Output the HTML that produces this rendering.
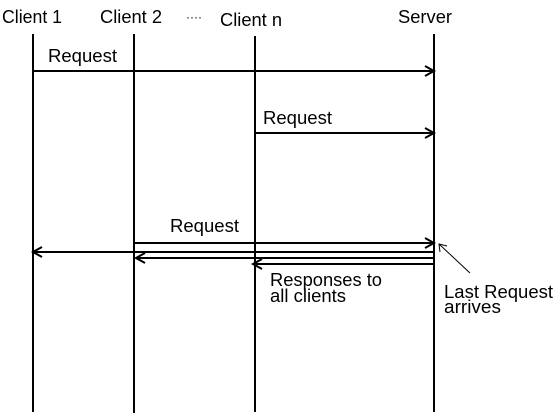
<!DOCTYPE html>
<html><head><meta charset="utf-8"><style>
html,body{margin:0;padding:0;background:#fff;}
svg{display:block;}
text{font-family:"Liberation Sans",Arial,sans-serif;font-size:18px;fill:#000;}
</style></head><body>
<svg width="555" height="416" viewBox="0 0 555 416" xmlns="http://www.w3.org/2000/svg">
<g stroke="#000" stroke-width="2" fill="none">
<line x1="33" y1="34" x2="33" y2="412"/>
<line x1="134" y1="34" x2="134" y2="413"/>
<line x1="255" y1="36" x2="255" y2="412"/>
<line x1="434" y1="34" x2="434" y2="412"/>
<line x1="33" y1="71" x2="434" y2="71"/>
<polyline points="425,66 434,71 425,76"/>
<line x1="255" y1="133" x2="434" y2="133"/>
<polyline points="425,128 434,133 425,138"/>
<line x1="134" y1="243" x2="434" y2="243"/>
<polyline points="425,238 434,243 425,248"/>
<line x1="33" y1="252" x2="434" y2="252"/>
<polyline points="42,247 33,252 42,257"/>
<line x1="136" y1="258" x2="434" y2="258"/>
<polyline points="145,253 136,258 145,263"/>
<line x1="253" y1="264" x2="434" y2="264"/>
<polyline points="262,259 253,264 262,269"/>
</g>
<g stroke="#000" stroke-width="1" fill="none">
<line x1="439" y1="244" x2="470" y2="273"/>
<polyline points="440,252 439,244 447,246"/>
</g>
<text x="2" y="23" textLength="60" lengthAdjust="spacingAndGlyphs">Client 1</text>
<text x="100" y="23" textLength="62" lengthAdjust="spacingAndGlyphs">Client 2</text>
<text x="186" y="21" style="font-size:12px">····</text>
<text x="220" y="26" textLength="62" lengthAdjust="spacingAndGlyphs">Client n</text>
<text x="398" y="23" textLength="54" lengthAdjust="spacingAndGlyphs">Server</text>
<text x="48" y="62" textLength="69" lengthAdjust="spacingAndGlyphs">Request</text>
<text x="263" y="124" textLength="69" lengthAdjust="spacingAndGlyphs">Request</text>
<text x="170" y="232" textLength="69" lengthAdjust="spacingAndGlyphs">Request</text>
<text x="270" y="286" textLength="112" lengthAdjust="spacingAndGlyphs">Responses to</text>
<text x="270" y="302" textLength="76" lengthAdjust="spacingAndGlyphs">all clients</text>
<text x="444" y="298" textLength="109" lengthAdjust="spacingAndGlyphs">Last Request</text>
<text x="444" y="313" textLength="57" lengthAdjust="spacingAndGlyphs">arrives</text>
</svg>
</body></html>
